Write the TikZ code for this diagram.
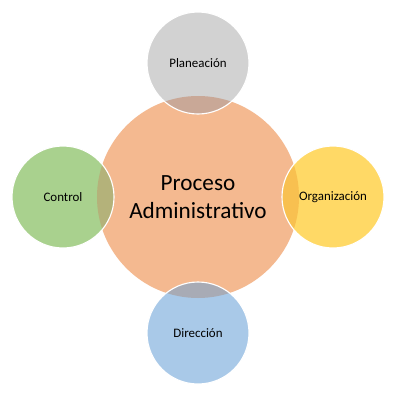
\documentclass[tikz,border=0pt]{standalone}
\usepackage{fontspec}
\setmainfont{Carlito}
\definecolor{mainc}{HTML}{F4B990}
\definecolor{greyc}{HTML}{D2D2D2}
\definecolor{yellowc}{HTML}{FFD966}
\definecolor{greenc}{HTML}{A9D18E}
\definecolor{bluec}{HTML}{A9C9E8}
\definecolor{ovgrey}{HTML}{C9A897}
\definecolor{ovyellow}{HTML}{F8C050}
\definecolor{ovgreen}{HTML}{B4B27A}
\definecolor{ovblue}{HTML}{A8ABB5}
\begin{document}
\begin{tikzpicture}[x=0.25mm,y=-0.25mm,
  bigc/.style={circle,inner sep=0pt,minimum size=50.5mm,fill=mainc},
  satc/.style={circle,inner sep=0pt,minimum size=25.5mm},
  bigtext/.style={align=center,font=\fontsize{16.5}{20}\selectfont},
  smalltext/.style={font=\fontsize{9.2}{11}\selectfont},
  ring/.style={draw=white,line width=0.8pt}]
\useasboundingbox (0,0) rectangle (400,400);
\fill[white] (0,0) rectangle (400,400);
\node[bigc] (main) at (198,197) {};
\node[satc,fill=greyc] (plan) at (198,63) {};
\node[satc,fill=yellowc] (org) at (333,197) {};
\node[satc,fill=bluec] (dir) at (198,333) {};
\node[satc,fill=greenc] (ctrl) at (63,197) {};
\begin{scope}
  \clip (main.center) circle (25.25mm);
  \fill[ovgrey] (plan.center) circle (12.75mm);
  \fill[ovyellow] (org.center) circle (12.75mm);
  \fill[ovblue] (dir.center) circle (12.75mm);
  \fill[ovgreen] (ctrl.center) circle (12.75mm);
\end{scope}
\foreach \n in {plan,org,dir,ctrl} \draw[ring] (\n.center) circle (12.75mm);
\node[bigtext] (maintext) at (main.center) {Proceso\\Administrativo};
\node[smalltext] (plantext) at (plan.center) {Planeación};
\node[smalltext] (orgtext) at (org.center) {Organización};
\node[smalltext] (dirtext) at (dir.center) {Dirección};
\node[smalltext] (ctrltext) at (ctrl.center) {Control};
\end{tikzpicture}
\end{document}
